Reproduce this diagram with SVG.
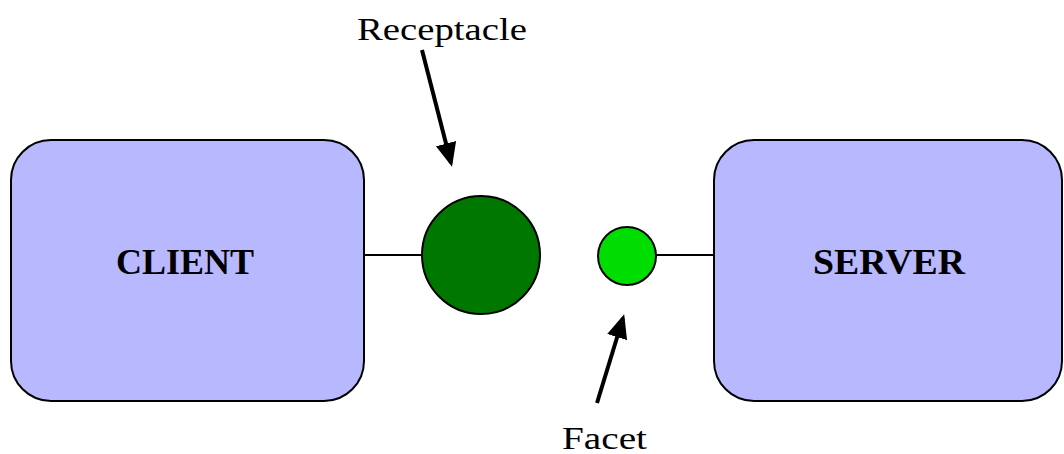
<svg xmlns="http://www.w3.org/2000/svg" width="1064" height="454" viewBox="0 0 1064 454">
  <style>
    .box { fill: #b8b8ff; stroke: #000; stroke-width: 2; }
    .label { font-family: "Liberation Serif", "Times New Roman", serif; fill: #000; }
    .title { font-size: 36px; font-weight: bold; text-anchor: middle; }
    .note { font-size: 31px; }
    .link { stroke: #000; stroke-width: 2; fill: none; }
    .pointer { stroke: #000; stroke-width: 4; fill: none; marker-end: url(#head); }
  </style>
  <defs>
    <marker id="head" markerWidth="7" markerHeight="6" refX="5" refY="3" orient="auto" markerUnits="strokeWidth">
      <path d="M0,0.4 L6,3 L0,5.6 Z" fill="#000"/>
    </marker>
  </defs>
  <rect width="1064" height="454" fill="#fff"/>

  <g id="connectors">
    <line class="link" x1="364" y1="255" x2="422" y2="255"/>
    <line class="link" x1="656" y1="255" x2="714" y2="255"/>
    <line class="pointer" x1="422" y1="50" x2="451" y2="163"/>
    <line class="pointer" x1="597" y1="403" x2="623" y2="318"/>
  </g>

  <g id="client">
    <rect class="box" x="11" y="140" width="353" height="261" rx="40" ry="40"/>
    <text class="label title" x="185" y="274" textLength="138" lengthAdjust="spacingAndGlyphs">CLIENT</text>
  </g>

  <g id="server">
    <rect class="box" x="714" y="140" width="348" height="261" rx="40" ry="40"/>
    <text class="label title" x="889" y="274" textLength="152" lengthAdjust="spacingAndGlyphs">SERVER</text>
  </g>

  <g id="receptacle">
    <circle cx="481" cy="255" r="59" fill="#007800" stroke="#000" stroke-width="2"/>
    <text class="label note" x="357" y="40" textLength="170" lengthAdjust="spacingAndGlyphs">Receptacle</text>
  </g>

  <g id="facet">
    <circle cx="627" cy="256" r="29" fill="#00dd00" stroke="#000" stroke-width="2"/>
    <text class="label note" x="562" y="449" textLength="85" lengthAdjust="spacingAndGlyphs">Facet</text>
  </g>
</svg>
